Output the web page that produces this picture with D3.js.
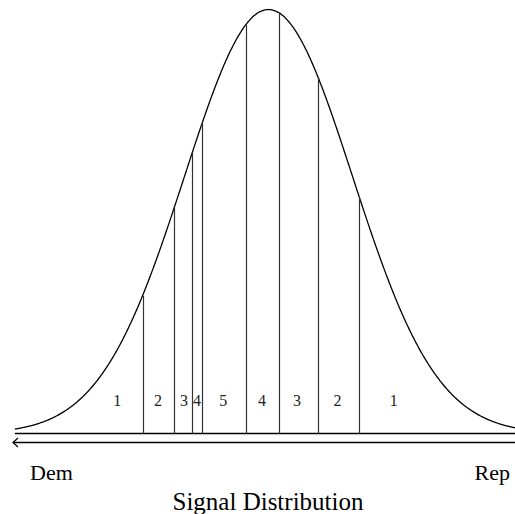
<!DOCTYPE html>
<html>
<head>
<meta charset="utf-8">
<script src="https://cdn.jsdelivr.net/npm/d3@7"></script>
<style>
  body { margin: 0; background: #fff; }
  text { font-family: "Liberation Serif", "Times New Roman", serif; }
</style>
</head>
<body>
<div id="plot"></div>
<script>
// cut points (in standard deviations from the mean)
var cutPoints = [-1.5, -1.12, -0.91, -0.79, -0.27, 0.12, 0.59, 1.08];
// segment labels and where they sit
var labels = ["1", "2", "3", "4", "5", "4", "3", "2", "1"];
var labelPos = [-1.8, -1.315, -1.006, -0.851, -0.54, -0.077, 0.34, 0.82, 1.49];
var curveDomain = [-3.02, 3.0];
var endLabels = ["Dem", "Rep"];
var title = "Signal Distribution";

var width = 515, height = 514;

var svg = d3.select("#plot")
  .append("svg")
  .attr("width", width)
  .attr("height", height);

var x = d3.scaleLinear()
  .domain([-3, 3])
  .range([16.5, 520.5]);

var y = d3.scaleLinear()
  .domain([0, 1 / Math.sqrt(2 * Math.PI)])
  .range([433.5, 9.5]);

// standard normal density
function pdf(z) {
  return Math.exp(-z * z / 2) / Math.sqrt(2 * Math.PI);
}

var samples = d3.range(curveDomain[0], curveDomain[1] + 0.001, 0.01);

// baseline
svg.append("line")
  .attr("x1", x(curveDomain[0]))
  .attr("x2", width)
  .attr("y1", y(0))
  .attr("y2", y(0))
  .attr("stroke", "black")
  .attr("stroke-width", 1.4);

// the curve
svg.append("path")
  .datum(samples)
  .attr("fill", "none")
  .attr("stroke", "black")
  .attr("stroke-width", 1.3)
  .attr("d", d3.line()
    .x(function(d) { return x(d); })
    .y(function(d) { return y(pdf(d)); })
    .curve(d3.curveBasis)
  );

// vertical cut lines
svg.selectAll(".cut")
  .data(cutPoints)
  .enter()
  .append("line")
  .attr("class", "cut")
  .attr("x1", function(d) { return Math.round(x(d)) + 0.5; })
  .attr("x2", function(d) { return Math.round(x(d)) + 0.5; })
  .attr("y1", y(0))
  .attr("y2", function(d) { return y(pdf(d)); })
  .attr("stroke", "#333")
  .attr("stroke-width", 1.2);

// segment labels
svg.selectAll(".lab")
  .data(labels)
  .enter()
  .append("text")
  .attr("class", "lab")
  .attr("x", function(d, i) { return x(labelPos[i]); })
  .attr("y", 406)
  .attr("text-anchor", "middle")
  .attr("font-size", "16px")
  .attr("fill", "#222")
  .text(function(d) { return d; });

// arrow line under the baseline
var ay = 442.5;
svg.append("line")
  .attr("x1", 13)
  .attr("x2", width)
  .attr("y1", ay)
  .attr("y2", ay)
  .attr("stroke", "black")
  .attr("stroke-width", 1.3);
svg.append("path")
  .attr("d", `M18,${ay - 4.5} L13,${ay} L18,${ay + 4.5}`)
  .attr("fill", "none")
  .attr("stroke", "black")
  .attr("stroke-width", 1.2);

svg.append("text")
  .attr("x", 30)
  .attr("y", 480)
  .attr("font-size", "22px")
  .text(endLabels[0]);

svg.append("text")
  .attr("x", 510)
  .attr("y", 480)
  .attr("text-anchor", "end")
  .attr("font-size", "22px")
  .text(endLabels[1]);

svg.append("text")
  .attr("x", 268)
  .attr("y", 510)
  .attr("text-anchor", "middle")
  .attr("font-size", "25px")
  .text(title);
</script>
</body>
</html>
